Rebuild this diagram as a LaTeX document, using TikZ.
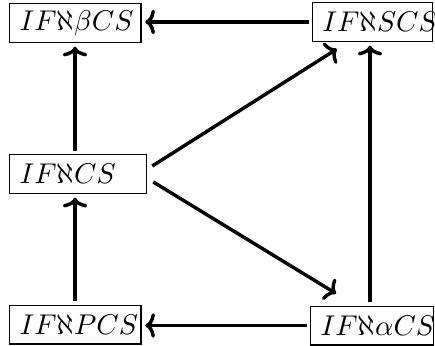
\documentclass[tikz,border=0pt]{standalone}
\usetikzlibrary{arrows.meta}
\begin{document}
\begin{tikzpicture}[x=0.35pt,y=-0.35pt,
  setbox/.style={draw, line width=0.4pt, inner xsep=3.5pt, inner ysep=0pt,
    align=left, minimum height=13.6pt},
  conn/.style={line width=1.2pt, -{To[length=3.4pt,width=8.6pt]},
    shorten >=1.3pt, shorten <=1.1pt}]
\useasboundingbox (0,0) rectangle (435,345);
\node[setbox, anchor=west, text width=39pt] (TL) at (9,23) {$IF\aleph\beta CS$};
\node[setbox, anchor=east, text width=35pt] (TR) at (433,22) {$IF\aleph SCS$};
\node[setbox, anchor=west, text width=41pt] (ML) at (9,174) {$IF\aleph CS$};
\node[setbox, anchor=west, text width=39pt] (BL) at (9,324.5) {$IF\aleph PCS$};
\node[setbox, anchor=east, text width=36pt] (BR) at (434,325.5) {$IF\aleph\alpha CS$};
\coordinate (lc) at (75,0);
\coordinate (rc) at (370,0);
\draw[conn] (TR.west) -- (TR.west -| TL.east);
\draw[conn] (BR.west) -- (BR.west -| BL.east);
\draw[conn] (ML.north -| lc) -- (TL.south -| lc);
\draw[conn] (BL.north -| lc) -- (ML.south -| lc);
\draw[conn] (BR.north -| rc) -- (TR.south -| rc);
\draw[conn, shorten <=0pt, shorten >=0pt] ([shift={(5,-8)}]ML.east) -- ([shift={(25,7)}]TR.south west);
\draw[conn, shorten <=0pt, shorten >=0pt] ([shift={(6,8)}]ML.east) -- ([shift={(26,-12)}]BR.north west);
\end{tikzpicture}
\end{document}
